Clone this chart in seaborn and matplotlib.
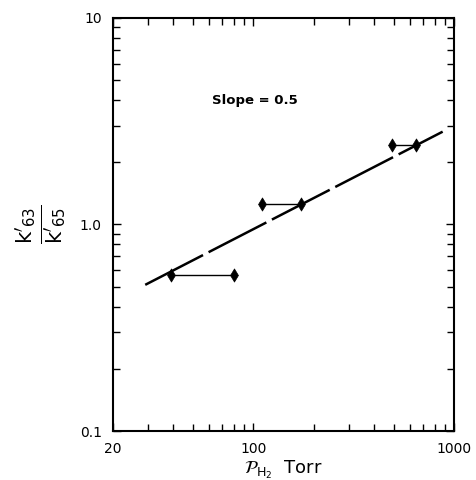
import matplotlib
matplotlib.use("Agg")
import matplotlib.pyplot as plt
import matplotlib.ticker as mticker
import numpy as np
import pandas as pd
import seaborn as sns

# measured pairs: each ratio was taken at two hydrogen pressures
pair_id = [1, 1, 2, 2, 3, 3]
p_h2 = [39, 80, 110, 172, 492, 646]
k_ratio = [0.57, 0.57, 1.25, 1.25, 2.41, 2.41]

# slope 0.5 fit line, end points
fit_p = [29, 877]
fit_k = [0.51, 2.81]

x_ticks = [20, 100, 1000]
x_tick_labels = ["20", "100", "1000"]
y_ticks = [0.1, 1.0, 10]
y_tick_labels = ["0.1", "1.0", "10"]

sns.set_style("ticks", {"axes.edgecolor": "black", "xtick.color": "black",
	"ytick.color": "black", "text.color": "black", "axes.labelcolor": "black"})
plt.rcParams["font.family"] = ["DejaVu Sans"]

fig = plt.figure(figsize=(4.76, 4.80), dpi=100)
ax = fig.add_axes([0.237, 0.102, 0.717, 0.861])

data = pd.DataFrame({"pair": pair_id, "p": p_h2, "k": k_ratio})
fit = pd.DataFrame({"p": fit_p, "k": fit_k})

# fit line, drawn with long dashes
sns.lineplot(data=fit, x="p", y="k", ax=ax, color="black", lw=1.8,
	dashes=False, legend=False)
ax.lines[-1].set_dashes([26, 2.5])

# horizontal bars joining each pair
sns.lineplot(data=data, x="p", y="k", units="pair", estimator=None, ax=ax,
	color="black", lw=1.0, legend=False)

sns.scatterplot(data=data, x="p", y="k", ax=ax, marker="d", s=45,
	color="black", edgecolor="black", linewidth=0.5, legend=False, zorder=5)

ax.set_xscale("log")
ax.set_yscale("log")
ax.set_xlim(20, 1000)
ax.set_ylim(0.1, 10)

ax.xaxis.set_major_locator(mticker.FixedLocator(x_ticks))
ax.xaxis.set_major_formatter(mticker.FixedFormatter(x_tick_labels))
ax.yaxis.set_major_locator(mticker.FixedLocator(y_ticks))
ax.yaxis.set_major_formatter(mticker.FixedFormatter(y_tick_labels))
ax.xaxis.set_minor_locator(mticker.LogLocator(base=10, subs=np.arange(2, 10)))
ax.yaxis.set_minor_locator(mticker.LogLocator(base=10, subs=np.arange(2, 10)))
ax.xaxis.set_minor_formatter(mticker.NullFormatter())
ax.yaxis.set_minor_formatter(mticker.NullFormatter())

ax.tick_params(which="both", direction="in", top=True, right=True, width=1.0,
	labelsize=10, pad=8, colors="black")
ax.tick_params(which="major", length=6)
ax.tick_params(which="minor", length=5)
for side in ax.spines.values():
	side.set_linewidth(1.5)
	side.set_color("black")

ax.text(102, 3.97, "Slope = 0.5", ha="center", va="center", fontsize=9.5,
	fontweight="bold", color="black")

ax.set_xlabel(r"$\mathcal{P}_{\mathrm{H_2}}$  Torr", fontsize=13, labelpad=2,
	color="black")
ax.set_ylabel(r"$\frac{\mathrm{k}'_{63}}{\mathrm{k}'_{65}}$", fontsize=22,
	labelpad=8, color="black")

fig.savefig("out.png", dpi=100)
